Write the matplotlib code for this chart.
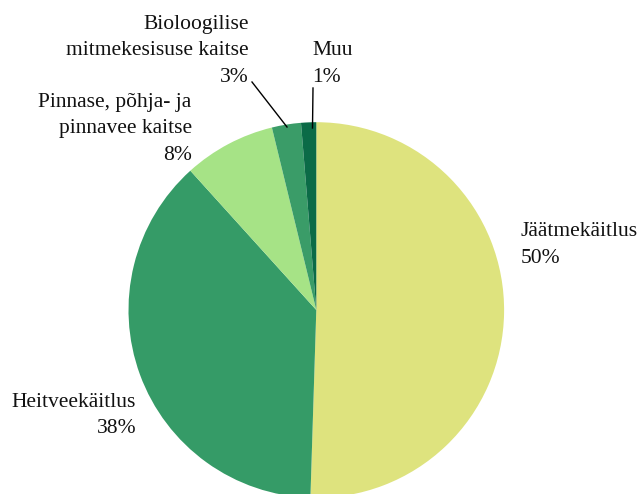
import matplotlib
matplotlib.use("Agg")
import matplotlib.pyplot as plt

categories = ["Jäätmekäitlus", "Heitveekäitlus", "Pinnase, põhja- ja\npinnavee kaitse",
              "Bioloogilise\nmitmekesisuse kaitse", "Muu"]
values = [50.5, 37.8, 7.9, 2.5, 1.3]
pct_labels = ["50%", "38%", "8%", "3%", "1%"]
colors = ["#DEE37E", "#359B67", "#A6E386", "#3A9C68", "#0B6B47"]

W, H = 637, 494
fig = plt.figure(figsize=(W / 100, H / 100), dpi=100)
ax = fig.add_axes([0, 0, 1, 1])

cx, cy, r = 316.3, H - 310, 187.8
ax.pie(values, colors=colors, startangle=90, counterclock=False,
       center=(cx, cy), radius=r, wedgeprops=dict(linewidth=0))
ax.set_xlim(0, W)
ax.set_ylim(0, H)
ax.set_aspect("auto")
ax.axis("off")

font = dict(family="Liberation Serif", fontsize=15.5, color="#111111")
pitch = 26.5
# (anchor x, baseline y of last line in px, horizontal alignment)
label_pos = [
    (520.7, 262.7, "left"),
    (136.0, 433.0, "right"),
    (191.7, 160.0, "right"),
    (248.5, 81.7, "right"),
    (312.3, 81.7, "left"),
]
for cat, pct, (x, ylast, ha) in zip(categories, pct_labels, label_pos):
    lines = cat.split("\n") + [pct]
    n = len(lines)
    for i, ln in enumerate(lines):
        yb = ylast - (n - 1 - i) * pitch
        ax.text(x, H - yb, ln, ha=ha, va="baseline", **font)

# leader lines
ax.plot([252, 287], [H - 82, H - 127], color="black", lw=1)
ax.plot([313, 312.5], [H - 88, H - 128], color="black", lw=1)

fig.savefig("out.png", dpi=100)
